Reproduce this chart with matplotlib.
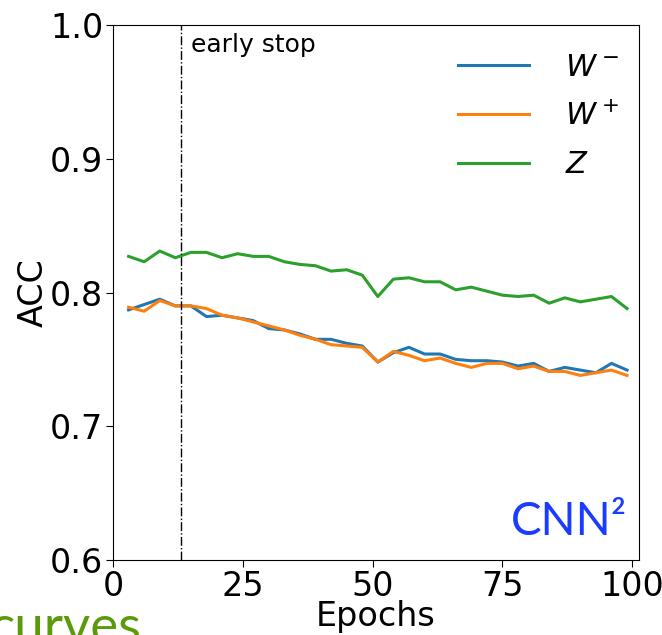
import numpy as np
import matplotlib.pyplot as plt

epochs = list(range(3, 100, 3))

acc_w_minus = [0.787, 0.791, 0.795, 0.790, 0.790, 0.782, 0.783, 0.781, 0.779, 0.773,
               0.772, 0.769, 0.765, 0.765, 0.762, 0.760, 0.748, 0.755, 0.759, 0.754,
               0.754, 0.750, 0.749, 0.749, 0.748, 0.745, 0.747, 0.741, 0.744, 0.742,
               0.740, 0.747, 0.742]
acc_w_plus = [0.789, 0.786, 0.794, 0.790, 0.790, 0.788, 0.783, 0.781, 0.778, 0.775,
              0.772, 0.768, 0.765, 0.761, 0.760, 0.759, 0.748, 0.756, 0.753, 0.749,
              0.751, 0.747, 0.744, 0.747, 0.747, 0.743, 0.745, 0.741, 0.741, 0.738,
              0.740, 0.742, 0.738]
acc_z = [0.827, 0.823, 0.831, 0.826, 0.830, 0.830, 0.826, 0.829, 0.827, 0.827,
         0.823, 0.821, 0.820, 0.816, 0.817, 0.813, 0.797, 0.810, 0.811, 0.808,
         0.808, 0.802, 0.804, 0.801, 0.798, 0.797, 0.798, 0.792, 0.796, 0.793,
         0.795, 0.797, 0.788]

early_stop = 13

fig = plt.figure(figsize=(6.62, 6.35), dpi=100)
ax = fig.add_axes([113 / 662, 75 / 635, 526 / 662, 535 / 635])

ax.plot(epochs, acc_w_minus, color='#1f77b4', lw=2.2, label='$W^-$')
ax.plot(epochs, acc_w_plus, color='#ff7f0e', lw=2.2, label='$W^+$')
ax.plot(epochs, acc_z, color='#2ca02c', lw=2.2, label='$Z$')
ax.axvline(early_stop, color='black', lw=1, linestyle='-.')
ax.text(early_stop + 2, 0.985, 'early stop', fontsize=18, va='center')

ax.set_xlim(0, 101.3)
ax.set_ylim(0.6, 1.0)
ax.set_xticks([0, 25, 50, 75, 100])
ax.set_yticks([0.6, 0.7, 0.8, 0.9, 1.0])
ax.tick_params(labelsize=24, length=5, pad=2)
ax.set_xlabel('Epochs', fontsize=24, labelpad=-2)
ax.set_ylabel('ACC', fontsize=24, labelpad=0)

ax.legend(loc='upper right', bbox_to_anchor=(1.015, 1.0), fontsize=22, frameon=False,
          handlelength=2.3, handletextpad=1.2, labelspacing=0.65)

ax.text(0.977, 0.047, 'CNN\u00b2', transform=ax.transAxes, ha='right', va='baseline',
        fontsize=33, color='#1a3cff', family='Lato')

fig.text(-0.015, -0.012, 'curves', fontsize=38, color='#5b9a0a', family='Lato',
         ha='left', va='baseline')

fig.savefig('out.png', dpi=100)
